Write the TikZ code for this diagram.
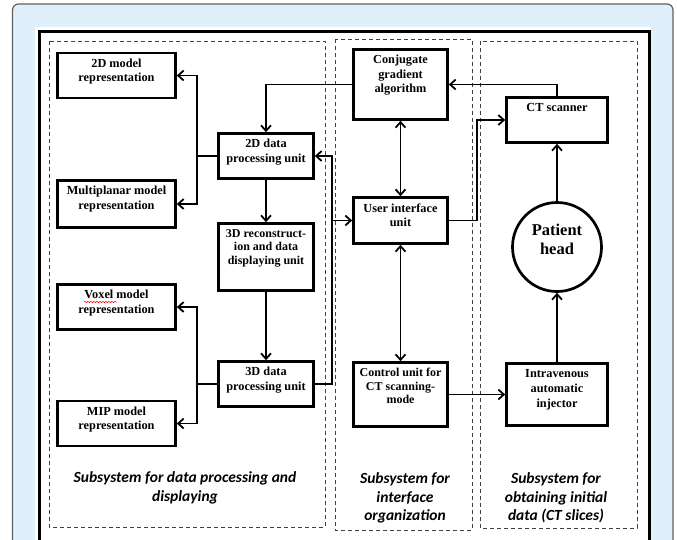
\documentclass[tikz,border=0pt]{standalone}
\usepackage{fontspec}
\setmainfont{Liberation Serif}
\newfontfamily\captionfont{Carlito}
\usetikzlibrary{arrows.meta}
\usetikzlibrary{decorations.pathmorphing}

\definecolor{framebg}{RGB}{223,240,251}
\definecolor{framegray}{RGB}{95,95,95}

\begin{document}
\begin{tikzpicture}[x=1pt, y=-1pt, >={Straight Barb[length=5.5pt,width=10pt]},
  unit/.style={draw, line width=2.7pt, inner sep=0pt},
  unittext/.style={anchor=north, align=center, inner sep=1pt, yshift=-6pt,
    font=\fontsize{12.3}{14.5}\selectfont\bfseries},
  link/.style={->, line width=1.8pt},
  subsys/.style={draw=black!75, line width=0.9pt, dash pattern=on 4pt off 3pt},
  subtitle/.style={align=center, font=\captionfont\fontsize{15.5}{18.5}\selectfont\bfseries\itshape}]

  \clip (0,0) rectangle (677,539);

  % ---------- Page frame ----------
  \fill[framebg, draw=framegray, line width=1.2pt, rounded corners=6pt] (12.5,4) rectangle (673,600);
  \fill[white] (35,27) rectangle (651,600);
  \draw[line width=3pt] (39,31.5) rectangle (649,600);

  % ---------- Subsystem borders ----------
  \draw[subsys] (49,41) rectangle (325,527);
  \draw[subsys] (335,39) rectangle (472,530);
  \draw[subsys] (480,41) rectangle (637,528);

  % ---------- Data processing and displaying ----------
  \node[unit, minimum width=118pt, minimum height=45pt,
    label={[unittext]north:{2D model\\representation}}] (m2d) at (116.5,75.5) {};
  \node[unit, minimum width=118pt, minimum height=47pt,
    label={[unittext]north:{Multiplanar model\\representation}}] (mmp) at (116.5,204) {};
  \node[unit, minimum width=118pt, minimum height=45pt,
    label={[unittext]north:{Voxel model\\representation}}] (mvox) at (116.5,307) {};
  \node[unit, minimum width=118pt, minimum height=45pt,
    label={[unittext]north:{MIP model\\representation}}] (mmip) at (116.5,423.5) {};

  \node[unit, minimum width=95pt, minimum height=45pt,
    label={[unittext]north:{2D data\\processing unit}}] (p2d) at (266,156) {};
  \node[unit, minimum width=95pt, minimum height=67pt,
    label={[unittext, font=\fontsize{12}{13.5}\selectfont\bfseries]north:{3D reconstruct-\\ion and data\\displaying unit}}] (rec3d) at (266,257) {};
  \node[unit, minimum width=95pt, minimum height=45pt,
    label={[unittext]north:{3D data\\processing unit}}] (p3d) at (266,384) {};

  % spell-check mark under "Voxel"
  \draw[red, line width=0.5pt, decorate, decoration={snake, amplitude=0.7pt, segment length=3pt}]
    (84,302) -- (117,302);

  % ---------- Interface organization ----------
  \node[unit, minimum width=94pt, minimum height=70pt,
    label={[unittext]north:{Conjugate\\gradient\\algorithm}}] (cga) at (400.5,84.5) {};
  \node[unit, minimum width=94pt, minimum height=46pt,
    label={[unittext]north:{User interface\\unit}}] (uiu) at (400.5,220.5) {};
  \node[unit, minimum width=94pt, minimum height=64pt,
    label={[unittext, font=\fontsize{12}{13.5}\selectfont\bfseries]north:{Control unit for\\CT scanning-\\mode}}] (ctl) at (400.5,394.5) {};

  % ---------- Obtaining initial data ----------
  \node[unit, minimum width=101pt, minimum height=45pt,
    label={[unittext]north:{CT scanner}}] (cts) at (557,120) {};
  \node[unit, circle, minimum size=89pt,
    label={[align=center, yshift=8pt, font=\fontsize{16.5}{19}\selectfont\bfseries]center:{Patient\\head}}] (head) at (557,247) {};
  \node[unit, minimum width=101pt, minimum height=62pt,
    label={[unittext, font=\fontsize{12.3}{15}\selectfont\bfseries]north:{Intravenous\\automatic\\injector}}] (inj) at (557,394.5) {};

  % ---------- Connections ----------
  \draw[line width=2.8pt] (p2d.west) -- ++(-20,0) coordinate (bus2d);
  \draw[link] (bus2d) |- (m2d.east);
  \draw[link] (bus2d) |- (mmp.east);

  \draw[line width=1.5pt] (p3d.west) -- ++(-20,0) coordinate (bus3d);
  \draw[link] (bus3d) |- (mvox.east);
  \draw[link] (bus3d) |- (mmip.east);

  \draw[link] (p2d) -- (rec3d);
  \draw[link] (rec3d) -- (p3d);

  \coordinate (busr) at (332,0);
  \draw[link] (p3d.east) -| (busr |- p2d.east) -- (p2d.east);
  \draw[link] (busr |- uiu.west) -- (uiu.west);

  \draw[link] (cga.west) -| (p2d.north);
  \draw[link, <->] (cga) -- (uiu);
  \draw[link, <->] (uiu) -- (ctl);
  \draw[link] (uiu.east) -- ++(28,0) |- (cts.west);
  \draw[link] (cts.north) |- (cga.east);
  \draw[link] (head) -- (cts);
  \draw[link] (inj) -- (head);
  \draw[link] (ctl.east) -- (inj.west);

  % ---------- Subsystem titles ----------
  \node[subtitle] (sdata) at (185,488) {Subsystem for data processing and\\displaying};
  \node[subtitle] (siface) at (405,498) {Subsystem for\\interface\\organization};
  \node[subtitle] (sinit) at (556,498) {Subsystem for\\obtaining initial\\data (CT slices)};

\end{tikzpicture}
\end{document}
